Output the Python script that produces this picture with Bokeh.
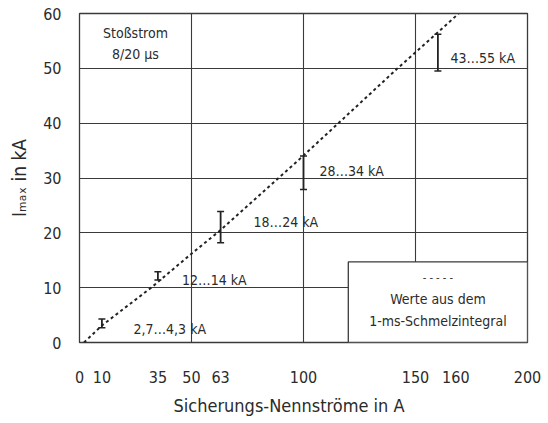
from bokeh.plotting import figure
from bokeh.models import (Range1d, FixedTicker, LinearAxis, Whisker, TeeHead,
                          ColumnDataSource, Label, BoxAnnotation, Title)
from bokeh.embed import file_html
from bokeh.resources import INLINE

# ---- data ----
rated = [10, 35, 63, 100, 160]                 # Sicherungs-Nennströme in A
imax_low = [2.7, 11.4, 18.2, 27.9, 49.5]       # kA, lower end of bar
imax_high = [4.3, 12.9, 23.9, 34.0, 56.2]      # kA, upper end of bar
range_labels = ["2,7…4,3 kA", "12…14 kA", "18…24 kA", "28…34 kA", "43…55 kA"]
curve_x = [2, 10, 32, 50, 63, 100, 142, 169.3]  # 1-ms-Schmelzintegral curve
curve_y = [0, 3.1, 10, 16.2, 20.5, 34.1, 50, 60]
x_tick_labels = ["0", "10", "35", "50", "63", "100", "150", "160", "200"]
y_ticks = [0, 10, 20, 30, 40, 50, 60]
x_grid = [50, 100, 150]

# placement of texts (data units)
x_tick_label_pos = [0, 10, 35, 50, 63, 100, 150, 168, 200]
label_x = [24.1, 45.8, 77.7, 107.1, 165.6]
label_y = [2.5, 11.4, 22.0, 31.3, 51.9]

FONT = "DejaVu Sans Condensed, DejaVu Sans, sans-serif"
INK = "#2b2b2b"
LINE = "#3a3a3a"

p = figure(width=548, height=423, output_backend="svg", toolbar_location=None,
           x_range=Range1d(0, 200), y_range=Range1d(0, 60),
           x_axis_location=None, y_axis_location="left",
           min_border_left=79, min_border_right=21, min_border_top=13,
           min_border_bottom=81)
p.background_fill_color = "white"
p.border_fill_color = "white"
p.outline_line_color = LINE
p.outline_line_width = 1.3

# y axis
ya = p.yaxis[0]
ya.ticker = FixedTicker(ticks=y_ticks)
ya.axis_line_color = None
ya.major_tick_line_color = None
ya.minor_tick_line_color = None
ya.major_label_standoff = 12
ya.major_label_text_font = FONT
ya.major_label_text_font_size = "16px"
ya.major_label_text_color = INK
ya.axis_label = "Iₘₐₓ in kA"
ya.axis_label_text_font = FONT
ya.axis_label_text_font_size = "19px"
ya.axis_label_text_font_style = "normal"
ya.axis_label_text_color = INK
ya.axis_label_standoff = 10

# x axis
xa = LinearAxis(ticker=FixedTicker(ticks=x_tick_label_pos), axis_line_color=None,
                major_tick_line_color=None, minor_tick_line_color=None,
                major_label_standoff=22, major_label_text_font=FONT,
                major_label_text_font_size="16px", major_label_text_color=INK,
                major_label_overrides={pos: lab for pos, lab in zip(x_tick_label_pos, x_tick_labels)})
p.add_layout(xa, "below")

p.add_layout(Title(text="Sicherungs-Nennströme in A", align="left", offset=94,
                   standoff=15, text_font=FONT, text_font_size="18px",
                   text_font_style="normal", text_color=INK), "below")

# grids
p.ygrid.ticker = FixedTicker(ticks=y_ticks)
p.xgrid.ticker = FixedTicker(ticks=x_grid)
p.xgrid.grid_line_color = LINE
p.ygrid.grid_line_color = LINE
p.xgrid.grid_line_width = 1.1
p.ygrid.grid_line_width = 1.1

# dashed curve
p.line(curve_x, curve_y, line_color="#222222", line_width=2, line_dash="3 3")

# error bars
src = ColumnDataSource(dict(x=rated, lo=imax_low, hi=imax_high))
w = Whisker(source=src, base="x", lower="lo", upper="hi", dimension="height",
            line_color="#222222", line_width=1.8,
            upper_head=TeeHead(size=7, line_width=1.5, line_color="#222222"),
            lower_head=TeeHead(size=7, line_width=1.5, line_color="#222222"))
p.add_layout(w)

for t, lx, ly in zip(range_labels, label_x, label_y):
    p.add_layout(Label(x=lx, y=ly, text=t, text_font=FONT, text_font_size="14px",
                       text_color=INK, text_align="left", text_baseline="middle"))

# Stoßstrom note
p.add_layout(Label(x=25, y=56.4, text="Stoßstrom", text_font=FONT, text_font_size="14px",
                   text_color=INK, text_align="center", text_baseline="middle"))
p.add_layout(Label(x=25, y=52.6, text="8/20 µs", text_font=FONT, text_font_size="14px",
                   text_color=INK, text_align="center", text_baseline="middle"))

# explanation box
box = BoxAnnotation(left=120, right=200, bottom=0, top=14.7, fill_color="white",
                    fill_alpha=1, line_color=LINE, line_width=1.3, line_alpha=1)
p.add_layout(box)
p.add_layout(Label(x=160, y=11.8, text="- - - - -", text_font=FONT, text_font_size="11px",
                   text_color=INK, text_align="center", text_baseline="middle"))
p.add_layout(Label(x=160, y=8.0, text="Werte aus dem", text_font=FONT, text_font_size="14px",
                   text_color=INK, text_align="center", text_baseline="middle"))
p.add_layout(Label(x=160, y=3.95, text="1-ms-Schmelzintegral", text_font=FONT,
                   text_font_size="14px", text_color=INK, text_align="center",
                   text_baseline="middle"))

open("out.html", "w").write(file_html(p, INLINE))
